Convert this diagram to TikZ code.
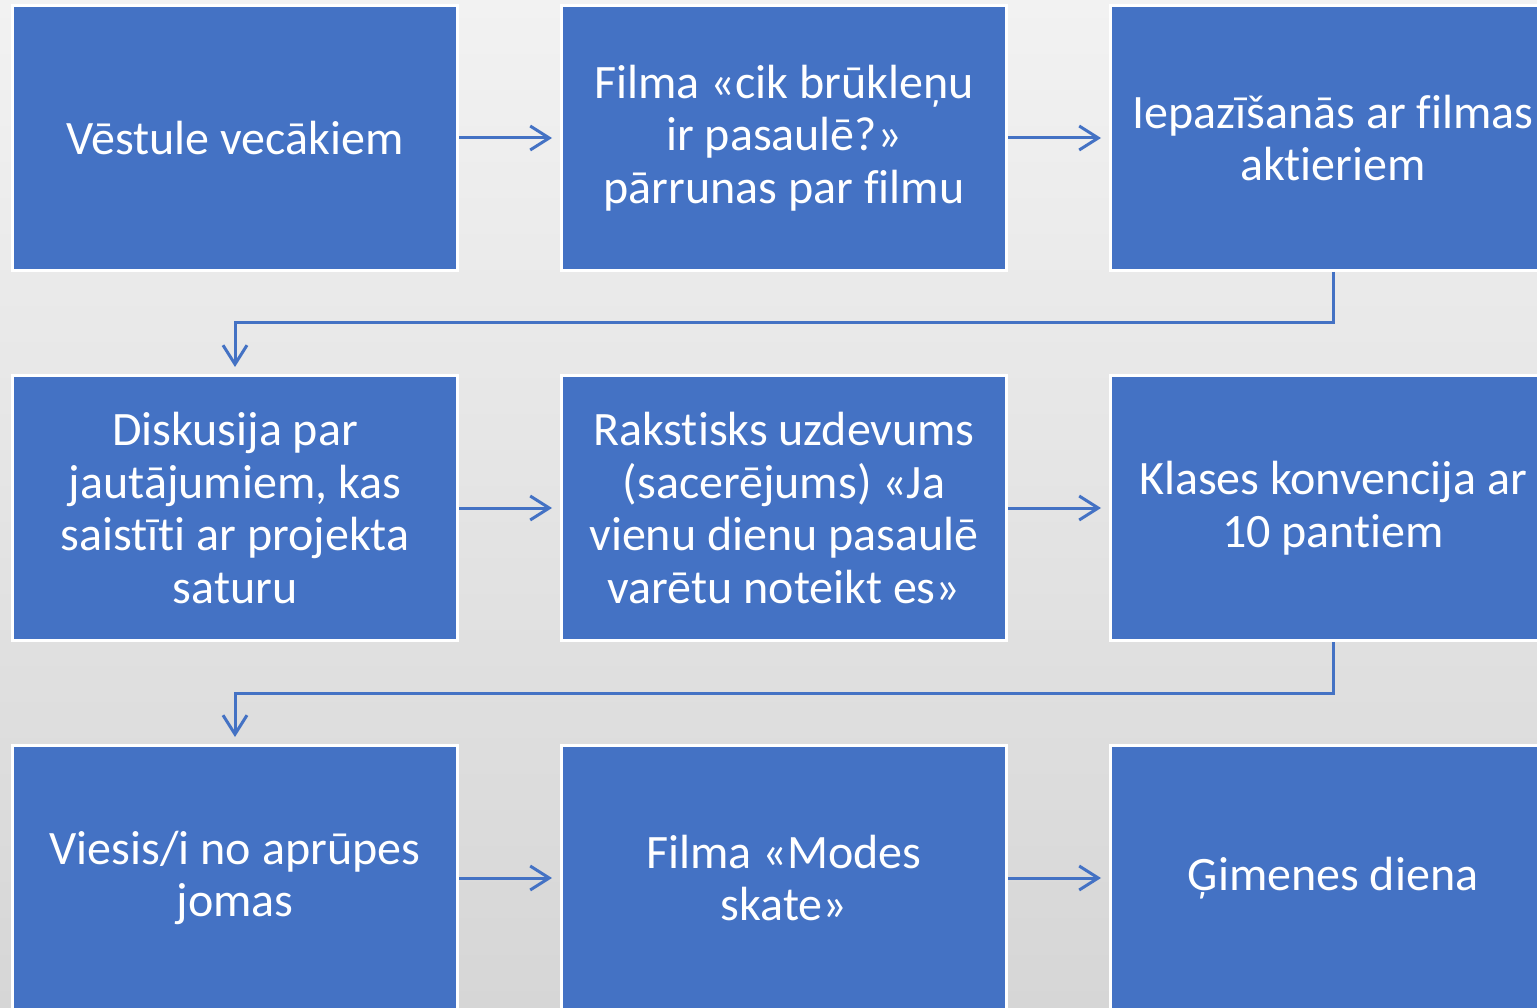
\documentclass[tikz,border=0pt]{standalone}
\usepackage{fontspec}
\setmainfont[Ligatures={NoCommon}]{Carlito}
\usetikzlibrary{arrows.meta}
\definecolor{boxblue}{RGB}{68,114,196}
\definecolor{bgtop}{RGB}{242,242,242}
\definecolor{bgbot}{RGB}{214,214,214}
\begin{document}
\begin{tikzpicture}[x=1pt,y=-1pt,
  stepbox/.style={draw=white,line width=3pt,fill=boxblue,minimum width=445pt,minimum height=265pt,
    text=white,align=center,inner sep=0pt,font=\fontsize{48}{52.5}\selectfont},
  flow/.style={draw=boxblue,line width=3pt,-{Straight Barb[length=19pt,width=24pt]}}]
\useasboundingbox (0,0) rectangle (1537,1008);
\clip (0,0) rectangle (1537,1008);
\shade[top color=bgtop,bottom color=bgbot] (0,0) rectangle (1537,1008);
\node[stepbox] (a1) at (235,138) {Vēstule vecākiem};
\node[stepbox] (a2) at (784,138) {Filma «cik brūkleņu\\ir pasaulē?»\\pārrunas par filmu};
\node[stepbox] (a3) at (1333,138) {Iepazīšanās ar filmas\\aktieriem};
\node[stepbox] (b1) at (235,508) {Diskusija par\\jautājumiem, kas\\saistīti ar projekta\\saturu};
\node[stepbox] (b2) at (784,508) {Rakstisks uzdevums\\(sacerējums) «Ja\\vienu dienu pasaulē\\varētu noteikt es»};
\node[stepbox] (b3) at (1333,508) {Klases konvencija ar\\10 pantiem};
\node[stepbox] (c1) at (235,878) {Viesis/i no aprūpes\\jomas};
\node[stepbox] (c2) at (784,878) {Filma «Modes\\skate»};
\node[stepbox] (c3) at (1333,878) {Ģimenes diena};
\draw[flow] (a1.east) -- ([xshift=-8pt]a2.west);
\draw[flow] (a2.east) -- ([xshift=-8pt]a3.west);
\draw[flow] (b1.east) -- ([xshift=-8pt]b2.west);
\draw[flow] (b2.east) -- ([xshift=-8pt]b3.west);
\draw[flow] (c1.east) -- ([xshift=-8pt]c2.west);
\draw[flow] (c2.east) -- ([xshift=-8pt]c3.west);
\draw[flow] (a3.south) -- ++(0,51) -| ([yshift=7pt]b1.north);
\draw[flow] (b3.south) -- ++(0,51) -| ([yshift=7pt]c1.north);
\end{tikzpicture}
\end{document}
